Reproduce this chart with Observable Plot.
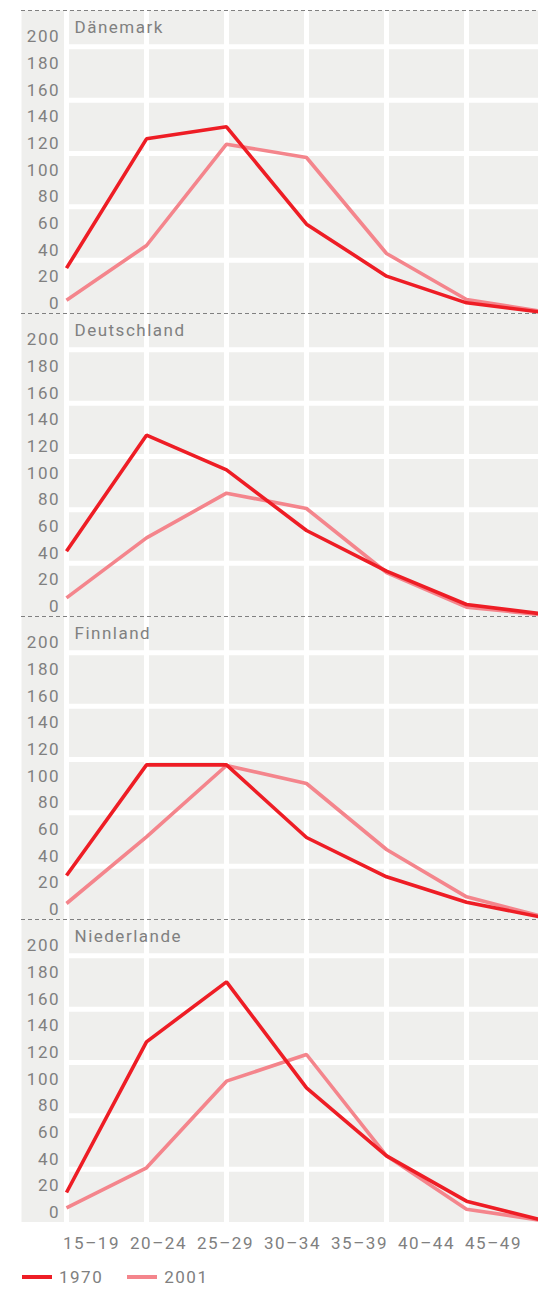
<!DOCTYPE html>
<html>
<head>
<meta charset="utf-8">
<script src="https://cdn.jsdelivr.net/npm/d3@7"></script>
<script src="https://cdn.jsdelivr.net/npm/@observablehq/plot@0.6"></script>
<style>
  html, body { margin: 0; padding: 0; background: #fff; overflow: hidden; }
  svg { overflow: hidden; display: block; }
  #legend { display: flex; align-items: center; height: 30px; padding-left: 22px;
    font-family: Roboto, sans-serif; font-size: 17px; letter-spacing: 1.5px; color: #808080; }
  .item { display: flex; align-items: center; margin-right: 24px; }
  .sw { width: 30px; height: 4px; margin-right: 7px; }
</style>
</head>
<body>
<div id="chart"></div>
<script>
const ages = ["15–19", "20–24", "25–29", "30–34", "35–39", "40–44", "45–49"];
const countries = ["Dänemark", "Deutschland", "Finnland", "Niederlande"];
const years = ["1970", "2001"];
const colors = ["#ee1d25", "#f4858c"];
const yTicks = [0, 20, 40, 60, 80, 100, 120, 140, 160, 180, 200];
const yGrid = [40, 80, 120, 160, 200];

const daenemark1970 = [34, 131, 140, 67, 28, 8, 0.5];
const daenemark2001 = [10, 51, 127, 117, 45, 10.5, 1];
const deutschland1970 = [49, 136, 110, 64.5, 34, 9, 1.5];
const deutschland2001 = [14, 59, 92.5, 81, 33, 7, 1];
const finnland1970 = [33, 116, 116, 61.5, 32, 13, 1];
const finnland2001 = [12, 62, 115.5, 102, 52.5, 17, 1.5];
const niederlande1970 = [22.5, 135.5, 180.5, 101, 50, 16, 1];
const niederlande2001 = [11, 41, 106, 126, 50, 10, 1];

const series = {
  "Dänemark": [daenemark1970, daenemark2001],
  "Deutschland": [deutschland1970, deutschland2001],
  "Finnland": [finnland1970, finnland2001],
  "Niederlande": [niederlande1970, niederlande2001]
};

const rows = [];
for (const c of countries) {
  for (const yi of [1, 0]) {
    series[c][yi].forEach((v, i) => rows.push({country: c, year: years[yi], age: ages[i], value: v}));
  }
}

const font = {fontFamily: "Roboto, sans-serif", fontSize: "17px", letterSpacing: "1.5px", color: "#808080", background: "#fff"};
const gray = "#808080";

const main = Plot.plot({
  width: 538,
  height: 1222,
  marginTop: 10,
  marginBottom: 0,
  marginLeft: 21,
  marginRight: 0,
  style: font,
  x: {type: "point", domain: ages, range: [66, 546], padding: 0, axis: null},
  y: {domain: [0, 227.25], axis: null},
  fy: {domain: countries, padding: 0, axis: null},
  color: {domain: years, range: colors},
  marks: [
    Plot.frame({fill: "#efefed", stroke: null}),
    Plot.ruleX(ages, {x: d => d, stroke: "#fff", strokeWidth: 5}),
    Plot.ruleY(yGrid, {y: d => d, x1: () => ages[0], x2: () => ages[ages.length - 1], stroke: "#fff", strokeWidth: 5}),
    Plot.ruleY([0], {stroke: gray, strokeDasharray: "4,3", strokeWidth: 1}),
    Plot.ruleY([227.25], {stroke: gray, strokeDasharray: "4,3", strokeWidth: 1}),
    Plot.axisY({ticks: yTicks, label: null, tickSize: 0, tickPadding: 0, dx: 38.5, dy: -10, textAnchor: "end", fill: gray, fontSize: 17}),
    Plot.text(countries, {fy: d => d, text: d => d, frameAnchor: "top-left", textAnchor: "start", lineAnchor: "top", dx: 53, dy: 10, fill: gray, fontSize: 17}),
    Plot.line(rows, {x: "age", y: "value", fy: "country", z: "year", stroke: "year", strokeWidth: 3.6, strokeLinejoin: "miter", strokeLinecap: "butt"})
  ]
});

const xaxis = Plot.plot({
  width: 538,
  height: 40,
  marginTop: 0,
  marginBottom: 0,
  marginLeft: 0,
  marginRight: 0,
  style: font,
  x: {type: "point", domain: ages, range: [88, 495], padding: 0, axis: null},
  marks: [
    Plot.text(ages, {x: d => d, text: d => d, frameAnchor: "middle", fill: gray, fontSize: 17, dy: 0.7})
  ]
});

const root = document.getElementById("chart");
root.appendChild(main);
root.appendChild(xaxis);

const legend = document.createElement("div");
legend.id = "legend";
years.forEach((y, i) => {
  const item = document.createElement("div");
  item.className = "item";
  const sw = document.createElement("span");
  sw.className = "sw";
  sw.style.background = colors[i];
  const t = document.createElement("span");
  t.textContent = y;
  item.appendChild(sw);
  item.appendChild(t);
  legend.appendChild(item);
});
root.appendChild(legend);
</script>
</body>
</html>
